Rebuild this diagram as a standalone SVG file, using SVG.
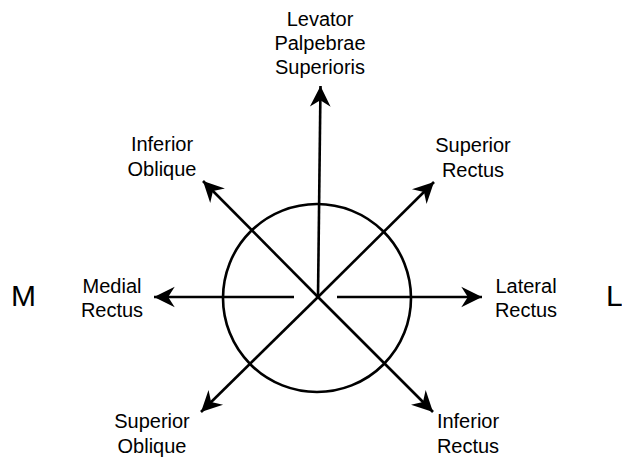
<svg xmlns="http://www.w3.org/2000/svg" width="622" height="463" viewBox="0 0 622 463">
<style>
  .ln{stroke:#000;stroke-width:2.6;fill:none}
  .t{font-family:"Liberation Sans",Arial,sans-serif;font-size:20px;fill:#000;text-anchor:middle}
  .big{font-family:"Liberation Sans",Arial,sans-serif;font-size:30px;fill:#000}
</style>
<defs>
  <marker id="ah" markerUnits="userSpaceOnUse" markerWidth="24" markerHeight="24" viewBox="-21 -11 22 22" refX="0" refY="0" orient="auto">
    <path d="M0,0 L-19,-9.5 L-13,0 L-19,9.5 Z" fill="#000"/>
  </marker>
</defs>
<rect width="622" height="463" fill="#fff"/>
<g id="eye">
  <circle cx="317" cy="298" r="94" class="ln"/>
</g>
<g id="connectors">
  <line class="ln" x1="318" y1="297" x2="320.5" y2="86" marker-end="url(#ah)"/>
  <line class="ln" x1="294" y1="297" x2="154" y2="297" marker-end="url(#ah)"/>
  <line class="ln" x1="337" y1="297" x2="482" y2="297" marker-end="url(#ah)"/>
  <line class="ln" x1="318" y1="297" x2="203" y2="181" marker-end="url(#ah)"/>
  <line class="ln" x1="318" y1="297" x2="434" y2="182" marker-end="url(#ah)"/>
  <line class="ln" x1="318" y1="297" x2="201" y2="412" marker-end="url(#ah)"/>
  <line class="ln" x1="318" y1="297" x2="433" y2="412" marker-end="url(#ah)"/>
</g>
<g id="lps">
  <text class="t" x="320" y="26">Levator</text>
  <text class="t" x="320" y="50">Palpebrae</text>
  <text class="t" x="320" y="74">Superioris</text>
</g>
<g id="io">
  <text class="t" x="162" y="151">Inferior</text>
  <text class="t" x="162" y="176">Oblique</text>
</g>
<g id="sr">
  <text class="t" x="473" y="152">Superior</text>
  <text class="t" x="473" y="177">Rectus</text>
</g>
<g id="mr">
  <text class="t" x="112" y="293">Medial</text>
  <text class="t" x="112" y="317">Rectus</text>
</g>
<g id="lr">
  <text class="t" x="526" y="293">Lateral</text>
  <text class="t" x="526" y="317">Rectus</text>
</g>
<g id="so">
  <text class="t" x="152" y="428">Superior</text>
  <text class="t" x="152" y="453">Oblique</text>
</g>
<g id="ir">
  <text class="t" x="468" y="428">Inferior</text>
  <text class="t" x="468" y="453">Rectus</text>
</g>
<g id="m">
  <text class="big" x="11" y="306">M</text>
</g>
<g id="l">
  <text class="big" x="606" y="306">L</text>
</g>
</svg>
